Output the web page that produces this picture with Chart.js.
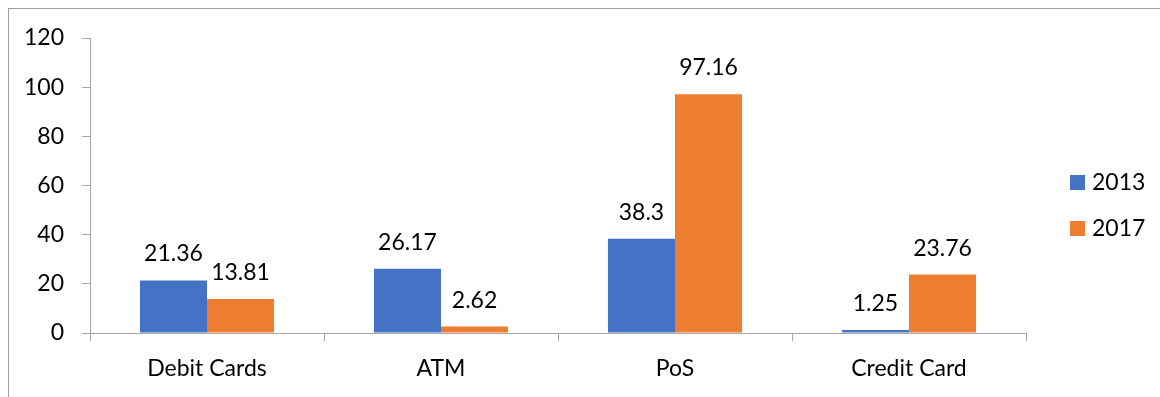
<!DOCTYPE html>
<html>
<head>
<meta charset="utf-8">
<script src="https://cdn.jsdelivr.net/npm/chart.js@4"></script>
<style>
  html, body { margin: 0; padding: 0; background: #fff; overflow: hidden; }
  #wrap { position: relative; width: 1160px; height: 397px; }
  #frame { position: absolute; left: 8px; top: 8px; width: 1400px; height: 600px;
           border-left: 1px solid #a0a0a0; border-top: 1px solid #a0a0a0; }
  #c { position: absolute; left: 0; top: 0; }
</style>
</head>
<body>
<div id="wrap">
  <div id="frame"></div>
  <canvas id="c" width="1160" height="397"></canvas>
</div>
<script>
// Card / channel categories and yearly values
const categories = ['Debit Cards', 'ATM', 'PoS', 'Credit Card'];
const series2013 = [21.36, 26.17, 38.3, 1.25];
const series2017 = [13.81, 2.62, 97.16, 23.76];
const seriesNames = ['2013', '2017'];
const seriesColors = ['#4472C4', '#ED7D31'];
const yTicks = [0, 20, 40, 60, 80, 100, 120];

const FONT = 'Lato';
const axisGray = '#a6a6a6';

Chart.defaults.font.family = FONT;
Chart.defaults.font.size = 23;
Chart.defaults.color = '#000';

// Value printed above each bar
const valueLabels = {
  id: 'valueLabels',
  afterDatasetsDraw(chart) {
    const ctx = chart.ctx;
    ctx.save();
    ctx.font = '23px ' + FONT;
    ctx.fillStyle = '#000';
    ctx.textAlign = 'center';
    ctx.textBaseline = 'alphabetic';
    chart.data.datasets.forEach((ds, i) => {
      chart.getDatasetMeta(i).data.forEach((bar, j) => {
        ctx.fillText(String(ds.data[j]), bar.x, bar.y - 19);
      });
    });
    ctx.restore();
  }
};

// Series key at the right of the plot
const sideLegend = {
  id: 'sideLegend',
  afterDraw(chart) {
    const ctx = chart.ctx;
    const boxX = 1070, firstTop = 175, step = 46, box = 15;
    ctx.save();
    ctx.font = '23px ' + FONT;
    ctx.textAlign = 'left';
    ctx.textBaseline = 'middle';
    chart.data.datasets.forEach((ds, i) => {
      const top = firstTop + i * step;
      ctx.fillStyle = ds.backgroundColor;
      ctx.fillRect(boxX, top, box, box);
      ctx.fillStyle = '#000';
      ctx.fillText(ds.label, boxX + 22, top + box / 2 + 0.5);
    });
    ctx.restore();
  }
};

new Chart(document.getElementById('c'), {
  type: 'bar',
  data: {
    labels: categories,
    datasets: [
      { label: seriesNames[0], data: series2013, backgroundColor: seriesColors[0] },
      { label: seriesNames[1], data: series2017, backgroundColor: seriesColors[1] }
    ]
  },
  options: {
    responsive: false,
    animation: false,
    events: [],
    layout: { padding: { top: 38, right: 134, bottom: 0, left: 0 } },
    datasets: {
      bar: { categoryPercentage: 0.573, barPercentage: 1.0, borderWidth: 0 }
    },
    plugins: {
      legend: { display: false },
      tooltip: { enabled: false }
    },
    scales: {
      x: {
        grid: { offset: true, drawOnChartArea: false, drawTicks: true, tickLength: 8, color: axisGray, lineWidth: 1 },
        border: { display: true, color: axisGray, width: 1 },
        ticks: { padding: 14, maxRotation: 0, autoSkip: false, font: { size: 23 } },
        afterFit(scale) { scale.height = 64; }
      },
      y: {
        min: 0,
        max: 120,
        afterBuildTicks(scale) { scale.ticks = yTicks.map(v => ({ value: v })); },
        grid: { drawOnChartArea: false, drawTicks: true, tickLength: 8, color: axisGray, lineWidth: 1 },
        border: { display: true, color: axisGray, width: 1 },
        ticks: { padding: 18, font: { size: 23 } },
        afterFit(scale) { scale.width = 90; }
      }
    }
  },
  plugins: [valueLabels, sideLegend]
});
</script>
</body>
</html>
